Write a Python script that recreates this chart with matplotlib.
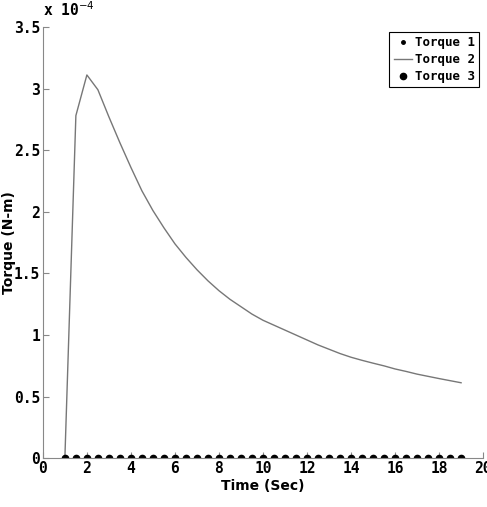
import numpy as np
import matplotlib
matplotlib.use('Agg')
import matplotlib.pyplot as plt
from matplotlib.ticker import FuncFormatter

# time samples (s)
t = np.arange(1.0, 19.01, 0.5)

# torque 1 and 3 stay at zero
torque1 = np.zeros(len(t))
torque3 = np.zeros(len(t))

# torque 2 in units of 1e-4 N-m
torque2 = [0.0, 2.78, 3.11, 2.99, 2.77, 2.56, 2.36, 2.17, 2.01, 1.87, 1.74,
           1.63, 1.53, 1.44, 1.36, 1.29, 1.23, 1.17, 1.12, 1.08, 1.04, 1.00,
           0.96, 0.92, 0.885, 0.85, 0.82, 0.795, 0.772, 0.75, 0.725, 0.705,
           0.683, 0.665, 0.647, 0.63, 0.613]

mono = 'DejaVu Sans Mono'

fig = plt.figure(figsize=(4.87, 5.07), dpi=100)
ax = fig.add_axes([0.088, 0.096, 0.904, 0.851])

ax.plot(t, torque1, '.', color='black', markersize=5, label='Torque 1')
ax.plot(t, torque2, '-', color='#777777', linewidth=1.0, label='Torque 2')
ax.plot(t, torque3, 'o', color='black', markersize=4.5, label='Torque 3')

ax.set_xlim(0, 20)
ax.set_ylim(0, 3.5)
ax.set_xticks(np.arange(0, 21, 2))
ax.set_yticks(np.arange(0, 3.51, 0.5))
ax.yaxis.set_major_formatter(FuncFormatter(lambda v, p: '%g' % v))

for side in ['top', 'right']:
    ax.spines[side].set_visible(False)
for side in ['left', 'bottom']:
    ax.spines[side].set_color('#888888')

ax.tick_params(direction='in', length=4, color='#888888', width=0.8, pad=2)
for lab in ax.get_xticklabels() + ax.get_yticklabels():
    lab.set_fontfamily(mono)
    lab.set_fontweight('bold')
    lab.set_fontsize(10.5)

ax.set_xlabel('Time (Sec)', fontsize=10, fontweight='bold', labelpad=2)
ax.set_ylabel('Torque (N-m)', fontsize=10, fontweight='bold')
ax.yaxis.set_label_coords(-0.062, 0.5)

fig.text(0.088, 0.962, r'x 10$^{-4}$', fontsize=10.5, fontweight='bold',
         family=mono, ha='left', va='bottom')

leg = ax.legend(loc='upper right', bbox_to_anchor=(0.991, 0.988), borderaxespad=0,
                fancybox=False, edgecolor='black', framealpha=1, handlelength=1.5,
                handletextpad=0.2, borderpad=0.35, labelspacing=0.3,
                prop={'family': mono, 'weight': 'bold', 'size': 9})
leg.get_frame().set_linewidth(0.8)

fig.savefig('out.png', dpi=100, facecolor='white')
